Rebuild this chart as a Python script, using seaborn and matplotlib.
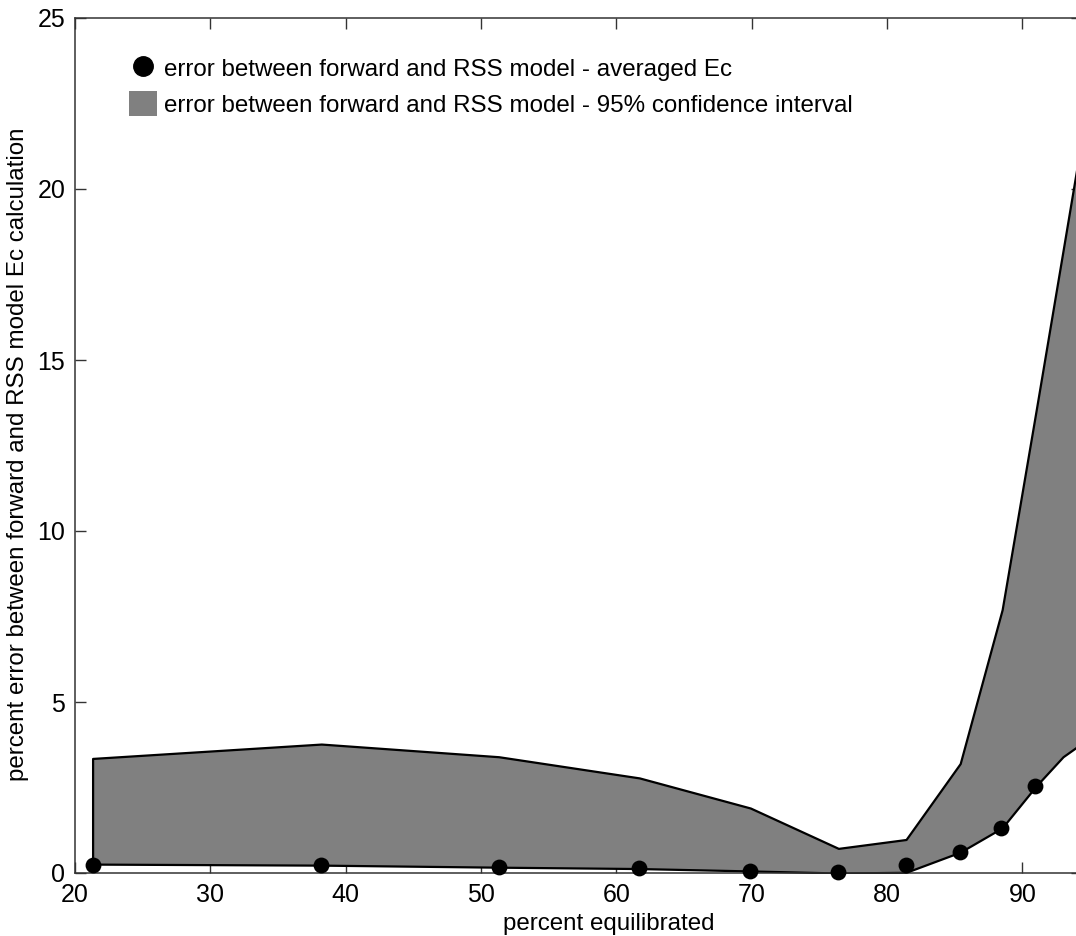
import numpy as np
import pandas as pd
import matplotlib
matplotlib.use("Agg")
import matplotlib.pyplot as plt
import seaborn as sns
from matplotlib.lines import Line2D
from matplotlib.patches import Patch

# averaged Ec error (dots)
x_mean = [21.3, 38.2, 51.3, 61.7, 69.9, 76.4, 81.4, 85.4, 88.4, 90.9]
err_mean = [0.22, 0.22, 0.18, 0.15, 0.07, 0.02, 0.22, 0.61, 1.32, 2.54]

# 95% confidence interval
x_ci = [21.3, 38.2, 51.3, 61.7, 69.9, 76.4, 81.4, 85.4, 88.5, 91.0, 93.0, 95.5]
ci_low = [0.26, 0.23, 0.17, 0.13, 0.06, 0.0, 0.02, 0.61, 1.32, 2.54, 3.4, 4.1]
ci_high = [3.35, 3.77, 3.4, 2.78, 1.9, 0.72, 0.98, 3.2, 7.7, 13.5, 18.2, 24.1]

legend_labels = ["error between forward and RSS model - averaged Ec",
                 "error between forward and RSS model - 95% confidence interval"]

sns.set_style("ticks")
plt.rcParams['font.family'] = ['Liberation Sans', 'DejaVu Sans']
plt.rcParams['text.color'] = 'black'
plt.rcParams['axes.labelcolor'] = 'black'

df_mean = pd.DataFrame({"pe": x_mean, "err": err_mean})
df_ci = pd.DataFrame({"pe": x_ci, "low": ci_low, "high": ci_high})

fig = plt.figure(figsize=(10.76, 9.36), dpi=100)
ax = fig.add_axes([75/1076, 63/936, 1007/1076, 855/936])

ax.fill_between(df_ci["pe"], df_ci["low"], df_ci["high"], facecolor="#808080",
                edgecolor="black", linewidth=1.6, zorder=1)
sns.scatterplot(data=df_mean, x="pe", y="err", ax=ax, color="black", s=130,
                edgecolor="black", linewidth=0, zorder=3, clip_on=False)

ax.set_xlim(20, 94.4)
ax.set_ylim(0, 25)
ax.set_xticks([20, 30, 40, 50, 60, 70, 80, 90])
ax.set_yticks([0, 5, 10, 15, 20, 25])
ax.tick_params(direction="in", length=8, width=1, top=True, right=True,
               labelsize=18, pad=7, color="#333333", labelcolor="black")
for s in ax.spines.values():
    s.set_linewidth(1.1)
    s.set_color("#333333")

ax.set_xlabel("percent equilibrated", fontsize=17.4)
ax.set_ylabel("percent error between forward and RSS model Ec calculation", fontsize=17.4)
ax.xaxis.set_label_coords(0.53, -0.047)
ax.yaxis.set_label_coords(-0.046, 0.49)

handles = [Line2D([], [], marker="o", color="black", linestyle="none", markersize=14),
           Patch(facecolor="#808080", edgecolor="none")]
ax.legend(handles, legend_labels, loc="upper left", bbox_to_anchor=(129/1076, 1 - 56/936),
          bbox_transform=fig.transFigure, frameon=False, fontsize=17.4, borderpad=0,
          borderaxespad=0, handlelength=1.16, handleheight=1.16, handletextpad=0.29,
          labelspacing=0.42)

fig.savefig("out.png", dpi=100)
